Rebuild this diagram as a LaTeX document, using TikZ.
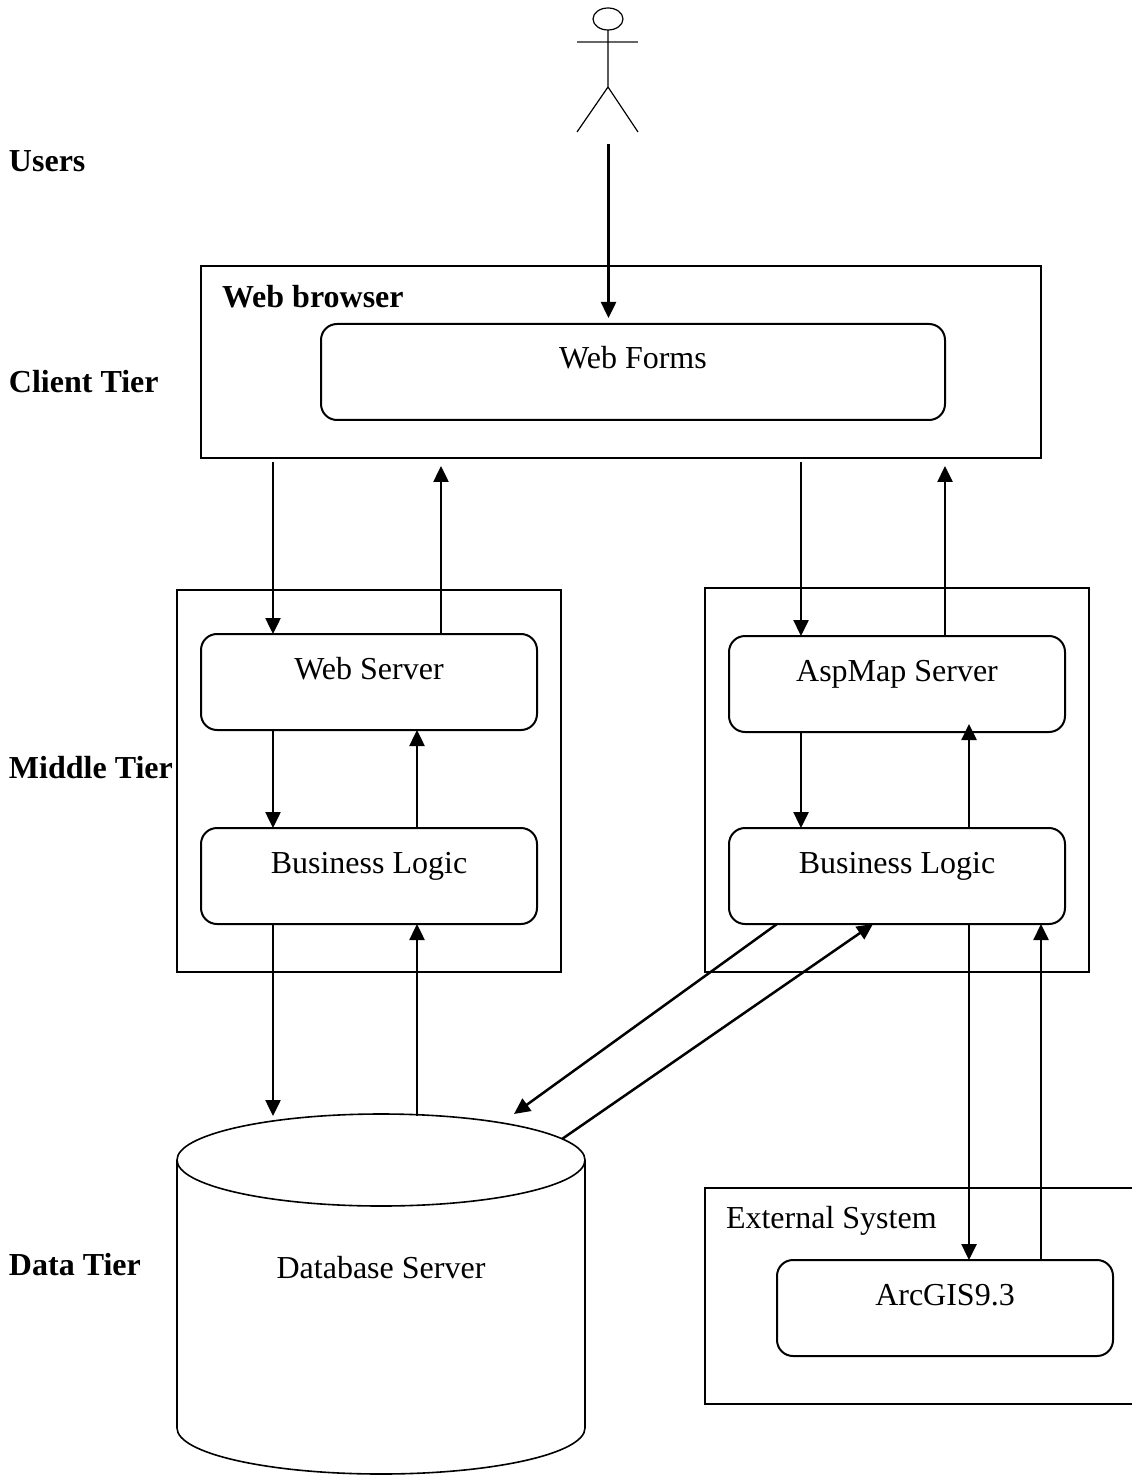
\documentclass[tikz,border=0pt]{standalone}
\usepackage{fontspec}
\setmainfont{Liberation Serif}
\usetikzlibrary{arrows.meta}
\newcommand{\boxtxt}[1]{\smash{\raisebox{1.5pt}{#1}}}
\tikzset{
  x=0.5pt,y=-0.5pt,
  base/.style={inner sep=0pt,outer sep=0pt,line width=1pt,draw=black,font=\fontsize{16}{18}\selectfont},
  sqbox/.style={base},
  rbox/.style={base,rounded corners=8pt},
  txt/.style={inner sep=0pt,outer sep=0pt,anchor=base west,font=\fontsize{16}{18}\selectfont},
  bold/.style={txt,font=\fontsize{16}{18}\selectfont\bfseries},
  arr/.style={line width=1.25pt,-{Triangle[length=8pt,width=7.5pt]}},
  thin actor/.style={line width=0.6pt}
}
\begin{document}
\begin{tikzpicture}
\useasboundingbox (0,0) rectangle (1132,1475);
% helper columns
\coordinate (xu) at (608.5,0);
\coordinate (xa) at (273,0);
\coordinate (xb) at (441,0);
\coordinate (xc) at (801,0);
\coordinate (xd) at (945,0);
\coordinate (xe) at (417,0);
\coordinate (xf) at (969,0);
\coordinate (xg) at (1041,0);
\coordinate (xh) at (777,0);
\coordinate (xi) at (873,0);
% actor
\draw[thin actor] (608,19) ellipse [x radius=15,y radius=11];
\draw[thin actor,draw=black!60] (577,42) -- (638,42);
\draw[thin actor] (608,30) -- (608,87) (577,132) -- (608,87) -- (638,132);
\coordinate (ufoot) at (608.5,144);
% tiers
\node[bold] (users) at (9,172) {Users};
\node[bold] (client) at (9,393) {Client Tier};
\node[bold] (middle) at (9,778) {Middle Tier};
\node[bold] (data) at (9,1275) {Data Tier};
% boxes
\node[sqbox,minimum width=420pt,minimum height=96pt] (browser) at (621,362) {};
\node[bold] (browsertxt) at (222,308) {Web browser};
\node[rbox,minimum width=312pt,minimum height=48pt] (forms) at (633,372) {\boxtxt{Web Forms}};
\node[sqbox,minimum width=192pt,minimum height=191pt] (midl) at (369,781) {};
\node[rbox,minimum width=168pt,minimum height=48pt] (webs) at (369,682) {\boxtxt{Web Server}};
\node[rbox,minimum width=168pt,minimum height=48pt] (bll) at (369,876) {\boxtxt{Business Logic}};
\node[sqbox,minimum width=192pt,minimum height=192pt] (midr) at (897,780) {};
\node[rbox,minimum width=168pt,minimum height=48pt] (asp) at (897,684) {\boxtxt{AspMap Server}};
\node[rbox,minimum width=168pt,minimum height=48pt] (blr) at (897,876) {\boxtxt{Business Logic}};
% database
\draw[line width=0.8pt] (381,1160) ellipse [x radius=204,y radius=46];
\draw[line width=0.8pt] (177,1160) -- (177,1428) arc [start angle=180,end angle=0,x radius=204,y radius=46] -- (585,1160);
\node[txt,anchor=base] (dbtxt) at (381,1278) {Database Server};
\coordinate (dbl) at (273,1116);
\coordinate (dbm) at (417,1116);
\coordinate (dba) at (514,1114);
\coordinate (dbb) at (562,1139);
% external system
\draw[line width=1pt] (1132,1188) -- (705,1188) -- (705,1404) -- (1132,1404);
\node[txt] (exttxt) at (726,1228) {External System};
\node[rbox,minimum width=168pt,minimum height=48pt] (arc) at (945,1308) {\boxtxt{ArcGIS9.3}};
% connectors
\draw[arr,shorten >=3pt] (ufoot) -- (forms.north -| xu);
\draw[arr,shorten <=2pt] (browser.south -| xa) -- (webs.north -| xa);
\draw[arr,shorten >=4pt] (webs.north -| xb) -- (browser.south -| xb);
\draw[arr,shorten <=2pt] (browser.south -| xc) -- (asp.north -| xc);
\draw[arr,shorten >=4pt] (asp.north -| xd) -- (browser.south -| xd);
\draw[arr] (webs.south -| xa) -- (bll.north -| xa);
\draw[arr] (bll.north -| xe) -- (webs.south -| xe);
\draw[arr] (asp.south -| xc) -- (blr.north -| xc);
\draw[arr,shorten >=-4pt] (blr.north -| xf) -- (asp.south -| xf);
\draw[arr] (bll.south -| xa) -- (dbl);
\draw[arr] (dbm) -- (bll.south -| xe);
\draw[arr] (blr.south -| xf) -- (arc.north -| xf);
\draw[arr] (arc.north -| xg) -- (blr.south -| xg);
\draw[arr] (blr.south -| xh) -- (dba);
\draw[arr] (dbb) -- (blr.south -| xi);
\end{tikzpicture}
\end{document}
